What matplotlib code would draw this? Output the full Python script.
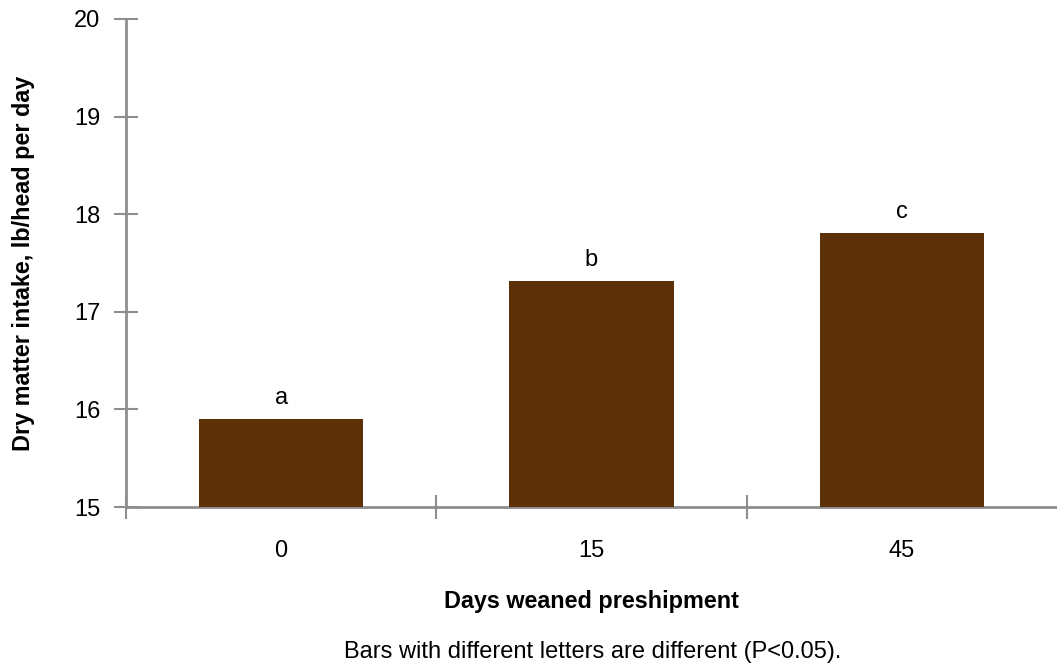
import matplotlib.pyplot as plt
import numpy as np

plt.rcParams['font.family'] = ['Liberation Sans', 'DejaVu Sans']

days = ['0', '15', '45']
intake = [15.9, 17.32, 17.81]
letters = ['a', 'b', 'c']

grey = '#8e8e8e'
brown = '#5c3108'

fig = plt.figure(figsize=(10.57, 6.71), dpi=100)
ax = fig.add_axes([0.1192, 0.2444, 0.8808, 0.7273])

x = np.arange(len(days))
ax.bar(x, [v - 15 for v in intake], bottom=15, width=0.53, color=brown, zorder=3)

for xi, v, l in zip(x, intake, letters):
    ax.text(xi, v + 0.1, l, ha='center', va='bottom', fontsize=17)

ax.set_xlim(-0.5, 2.5)
ax.set_ylim(15, 20)

for s in ['top', 'right']:
    ax.spines[s].set_visible(False)
for s in ['left', 'bottom']:
    ax.spines[s].set_color(grey)
    ax.spines[s].set_linewidth(2)

ax.set_yticks(range(15, 21))
ax.tick_params(axis='y', direction='inout', length=17, width=1.5, color=grey,
               labelsize=17, pad=10)
ax.set_xticks(x)
ax.set_xticklabels(days)
ax.tick_params(axis='x', which='major', length=0, labelsize=17, pad=24)
ax.set_xticks([-0.5, 0.5, 1.5], minor=True)
ax.tick_params(axis='x', which='minor', direction='inout', length=17, width=1.5, color=grey)

ax.set_ylabel('Dry matter intake, lb/head per day', fontsize=16.8, fontweight='bold', labelpad=28)
ax.set_xlabel('Days weaned preshipment', fontsize=16.8, fontweight='bold', labelpad=20)

fig.text(0.561, 0.028, 'Bars with different letters are different (P<0.05).',
         ha='center', va='center', fontsize=17)

fig.savefig('out.png', dpi=100)
